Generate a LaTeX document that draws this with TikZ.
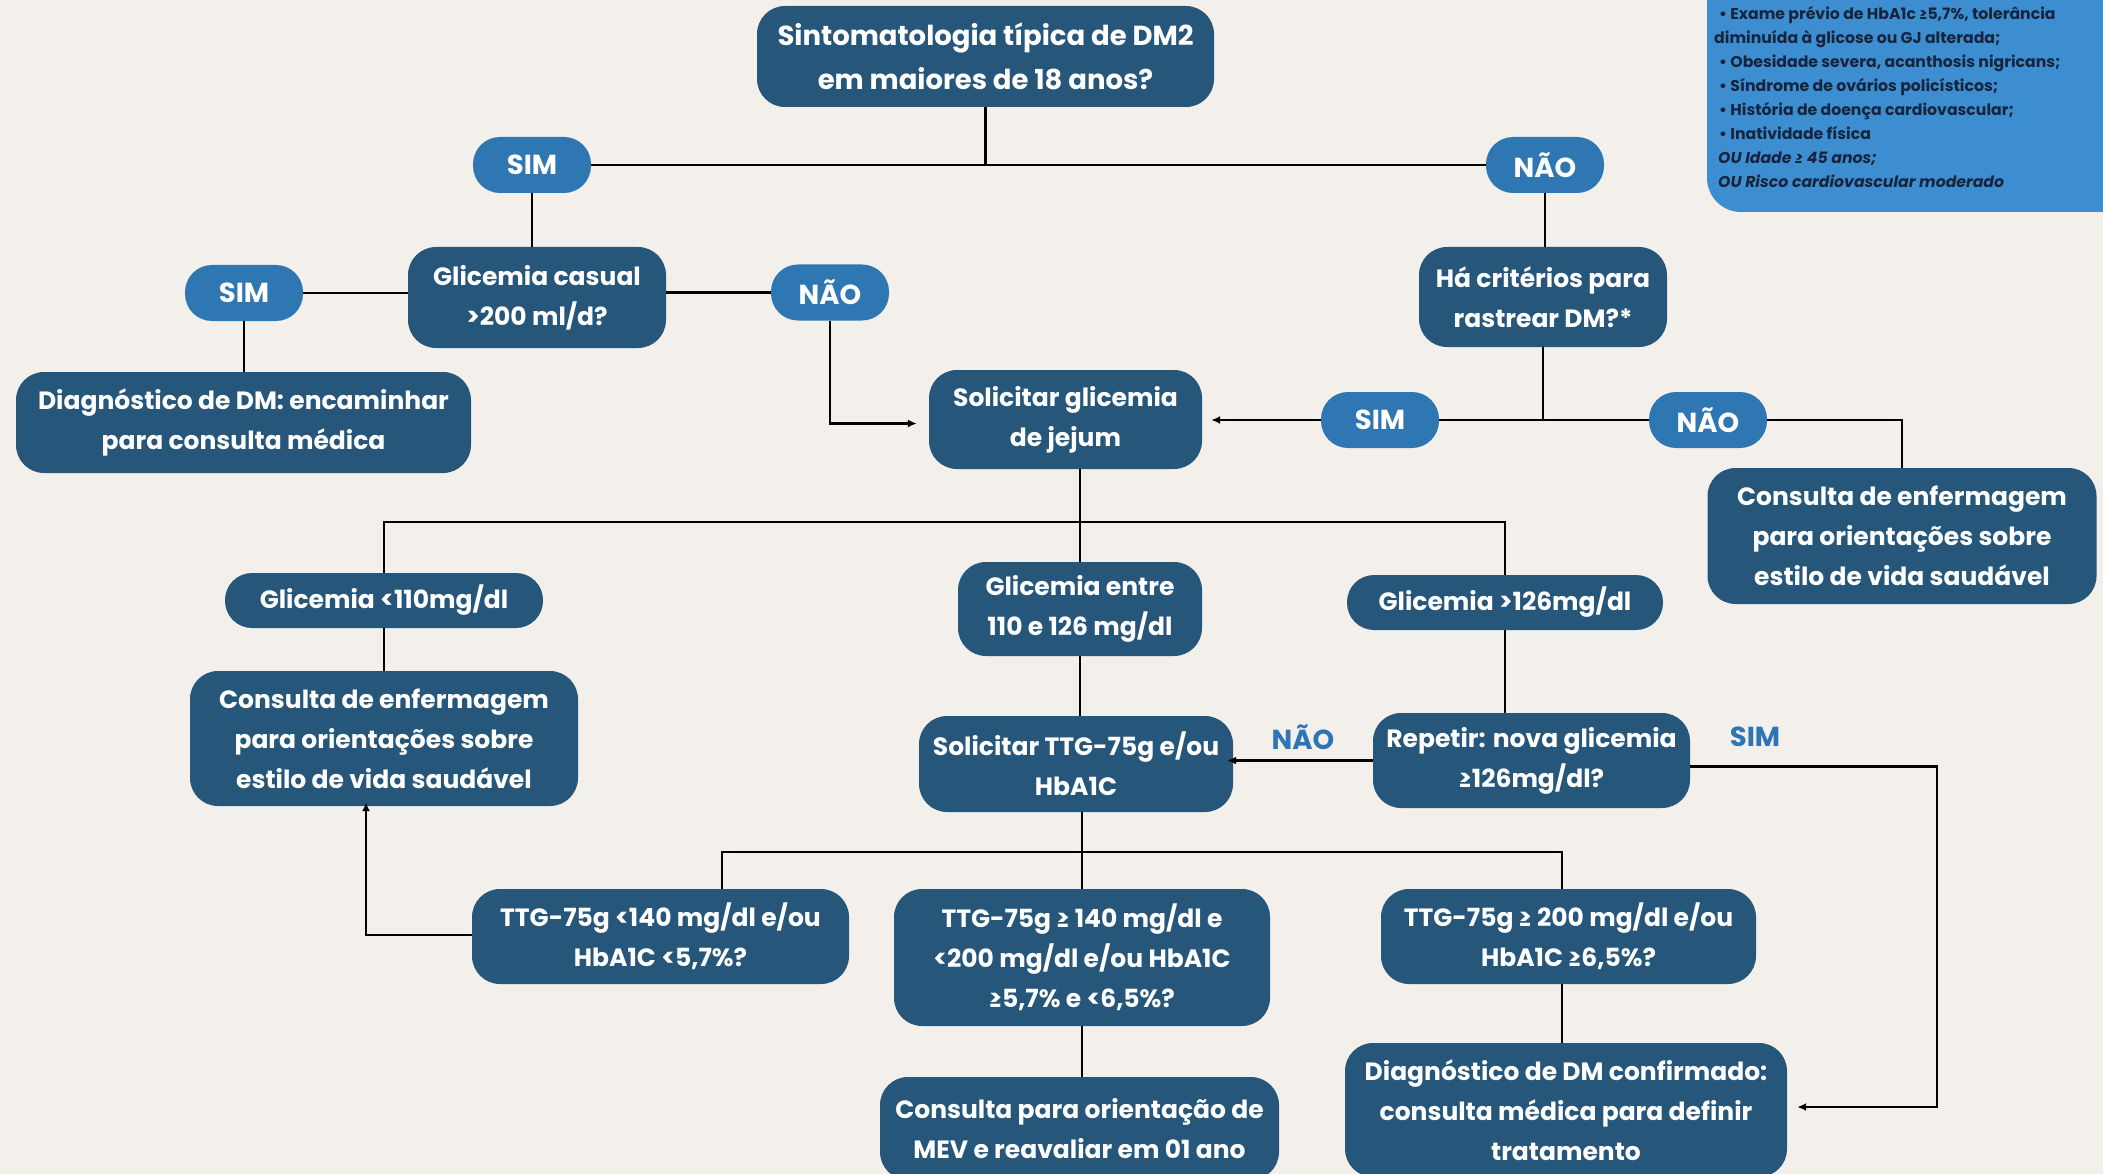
\documentclass[tikz,border=0pt]{standalone}
\usepackage{fontspec}
\setmainfont{Poppins}
\usetikzlibrary{arrows.meta}

\definecolor{bgcol}{HTML}{F3F0EB}
\definecolor{boxcol}{HTML}{27567B}
\definecolor{pillcol}{HTML}{2F77B3}
\definecolor{infocol}{HTML}{3D8ED0}
\definecolor{infotext}{HTML}{16253D}
\definecolor{lblcol}{HTML}{2E75B6}

\tikzset{
  box/.style={fill=boxcol, text=white, rounded corners=28pt, align=center,
    font=\bfseries\fontsize{25}{40}\selectfont, inner sep=0pt},
  topbox/.style={box, font=\bfseries\fontsize{27.5}{44}\selectfont},
  pill/.style={fill=pillcol, text=white, rounded corners=27pt, align=center,
    font=\bfseries\fontsize{27.5}{32}\selectfont, inner sep=0pt,
    minimum width=118pt, minimum height=56pt},
  darkpill/.style={box, rounded corners=27pt, minimum height=55pt},
  wire/.style={draw=black, line width=2.4pt},
  arrow/.style={wire, -{Latex[length=9pt,width=8pt]}},
  infotxt/.style={anchor=north west, inner sep=0pt, align=left, text=infotext,
    font=\bfseries\fontsize{15.7}{24}\selectfont},
  lbl/.style={text=lblcol, font=\bfseries\fontsize{27.5}{32}\selectfont, inner sep=0pt}
}

\begin{document}
\begin{tikzpicture}[x=1pt,y=-1pt]
  \useasboundingbox (0,0) rectangle (2103,1174);
  \clip (0,0) rectangle (2103,1174);
  \fill[bgcol] (0,0) rectangle (2103,1174);

  % criteria note, top right
  \path[fill=infocol, rounded corners=34pt] (1707,-60) rectangle (2170,212);
  \node[infotxt] (info) at (1714,6) {%
    \hspace*{5pt}• Exame prévio de HbA1c ≥5,7\%, tolerância\\
    diminuída à glicose ou GJ alterada;\\
    \hspace*{5pt}• Obesidade severa, acanthosis nigricans;\\
    \hspace*{5pt}• Síndrome de ovários policísticos;\\
    \hspace*{5pt}• História de doença cardiovascular;\\
    \hspace*{5pt}• Inatividade física\\
    \hspace*{4pt}\itshape OU Idade ≥ 45 anos;\\
    \hspace*{4pt}\itshape OU Risco cardiovascular moderado};

  % first level
  \node[topbox, minimum width=457pt, minimum height=101pt] (q1) at (985.5,56.5)
    {Sintomatologia típica de DM2\\em maiores de 18 anos?};
  \node[pill] (sim1) at (532,165) {SIM};
  \node[pill] (nao1) at (1545,165) {NÃO};

  % left branch
  \node[box, minimum width=258pt, minimum height=101pt] (casual) at (537,297.5)
    {Glicemia casual\\>200 ml/d?};
  \node[pill] (sim2) at (244,293) {SIM};
  \node[pill] (nao2) at (830,292.5) {NÃO};
  \node[box, minimum width=455pt, minimum height=101pt] (diag1) at (243.5,422.5)
    {Diagnóstico de DM: encaminhar\\para consulta médica};

  % right branch
  \node[box, minimum width=248pt, minimum height=100pt] (criterios) at (1543,297)
    {Há critérios para\\rastrear DM?*};
  \node[pill] (sim3) at (1380,420) {SIM};
  \node[pill] (nao3) at (1708,420) {NÃO};
  \node[box, minimum width=389pt, minimum height=136pt] (consulta1) at (1902,536)
    {Consulta de enfermagem\\para orientações sobre\\estilo de vida saudável};

  % fasting glucose
  \node[box, minimum width=273pt, minimum height=99pt] (jejum) at (1065.5,419.5)
    {Solicitar glicemia\\de jejum};
  \node[darkpill, minimum width=318pt] (g110) at (384,600.5) {Glicemia <110mg/dl};
  \node[box, minimum width=244pt, minimum height=94pt] (gentre) at (1080,609)
    {Glicemia entre\\110 e 126 mg/dl};
  \node[darkpill, minimum width=316pt] (g126) at (1505,602.5) {Glicemia >126mg/dl};
  \node[box, minimum width=388pt, minimum height=135pt] (consulta2) at (384,738.5)
    {Consulta de enfermagem\\para orientações sobre\\estilo de vida saudável};

  % confirmation tests
  \node[box, minimum width=314pt, minimum height=96pt] (ttg) at (1076,764)
    {Solicitar TTG-75g e/ou\\HbA1C};
  \node[box, minimum width=317pt, minimum height=95pt] (repetir) at (1531.5,760.5)
    {Repetir: nova glicemia\\≥126mg/dl?};
  \node[lbl] (naolbl) at (1303,737) {NÃO};
  \node[lbl] (simlbl) at (1755,737) {SIM};

  \node[box, minimum width=377pt, minimum height=95pt] (t140) at (660.5,936.5)
    {TTG-75g <140 mg/dl e/ou\\HbA1C <5,7\%?};
  \node[box, minimum width=376pt, minimum height=137pt] (t140b) at (1082,957.5)
    {TTG-75g ≥ 140 mg/dl e\\<200 mg/dl e/ou HbA1C\\≥5,7\% e <6,5\%?};
  \node[box, minimum width=375pt, minimum height=95pt] (t200) at (1568.5,936.5)
    {TTG-75g ≥ 200 mg/dl e/ou\\HbA1C ≥6,5\%?};
  \node[box, minimum width=399pt, minimum height=103pt] (mev) at (1079.5,1128.5)
    {Consulta para orientação de\\MEV e reavaliar em 01 ano};
  \node[box, minimum width=442pt, minimum height=134pt] (diag2) at (1566,1110)
    {Diagnóstico de DM confirmado:\\consulta médica para definir\\tratamento};

  % connectors, top part
  \draw[wire] (q1.south) -- (q1.south |- sim1.east);
  \draw[wire] (sim1.east) -- (nao1.west);
  \draw[wire] (sim1.south) -- (sim1.south |- casual.north);
  \draw[wire] (sim2.east) -- (sim2.east -| casual.west);
  \draw[wire] (casual.east |- nao2.west) -- (nao2.west);
  \draw[wire] (sim2.south) -- (sim2.south |- diag1.north);
  \draw[arrow, shorten >=12pt] (nao2.south) |- ([yshift=-4pt]jejum.west);
  \draw[wire] (nao1.south) -- (nao1.south |- criterios.north);
  \draw[wire] (criterios.south) -- (criterios.south |- sim3.east);
  \draw[wire] (sim3.east) -- (nao3.west);
  \draw[arrow, shorten >=9pt] (sim3.west) -- (sim3.west -| jejum.east);
  \draw[wire] (nao3.east) -| (consulta1.north);

  % connectors, fasting glucose
  \coordinate (bus1) at (1080,522);
  \draw[wire] (jejum.south -| gentre.north) -- (gentre.north);
  \draw[wire] (g110.north) |- (bus1) -| (g126.north);
  \draw[wire] (g110.south) -- (consulta2.north);
  \draw[wire] (gentre.south) -- (gentre.south |- ttg.north);
  \draw[wire] (g126.south) -- (g126.south |- repetir.north);
  \draw[arrow, shorten >=-6pt] (repetir.west) -- (repetir.west -| ttg.east);
  \coordinate (simturn) at (1937,1107);
  \draw[arrow, shorten >=10pt] ([yshift=-6pt]repetir.east) -| (simturn) -- (simturn -| diag2.east);

  % connectors, confirmation tests
  \coordinate (bus2l) at (722,852);
  \coordinate (bus2r) at (1562,852);
  \draw[wire] (ttg.south -| t140b.north) -- (t140b.north);
  \draw[wire] (bus2l |- t140.north) -- (bus2l) -- (bus2r) -- (bus2r |- t200.north);
  \draw[wire] (t140b.south) -- (t140b.south |- mev.north);
  \draw[wire] (bus2r |- t200.south) -- (bus2r |- diag2.north);
  \coordinate (backturn) at (366,935);
  \draw[arrow, shorten >=-4pt] (t140.west |- backturn) -- (backturn) -- (backturn |- consulta2.south);
\end{tikzpicture}
\end{document}
